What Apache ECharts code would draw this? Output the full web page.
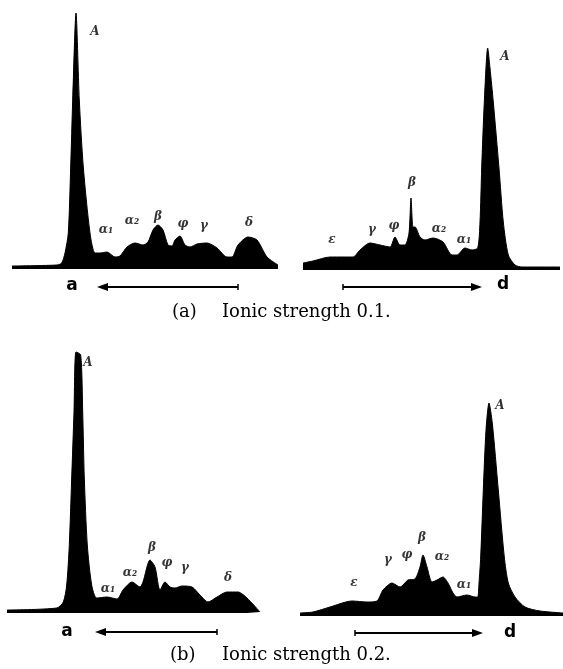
<!DOCTYPE html>
<html>
<head>
<meta charset="utf-8">
<script src="https://cdn.jsdelivr.net/npm/echarts@6/dist/echarts.min.js"></script>
<style>
  html, body { margin: 0; padding: 0; background: #fff; }
  #chart { width: 563px; height: 669px; }
</style>
</head>
<body>
<div id="chart"></div>
<script>
// densitometer traces, x = distance along strip, y = optical density (arbitrary units)
// (a) ionic strength 0.1, acid side
const a1X = [0, 45, 49.7, 53, 56.3, 58.7, 60.7, 64, 67.3, 71.3, 78, 83, 88, 95, 103, 108, 115, 123, 131, 136, 141, 146, 151, 156, 160, 163, 168, 173, 178, 185, 195, 205, 215, 220, 226, 236, 245, 255, 266]
const a1Y = [3, 4, 6, 16, 36, 102, 169, 256, 169, 102, 36, 16, 16, 17, 12, 13, 22, 26, 24, 27, 39, 44, 39, 24, 23, 29, 33, 24, 22, 25, 26, 21, 12, 12, 24, 32, 29, 12, 4]
// (a) ionic strength 0.1, alkaline side
const d1X = [0, 10, 27, 40, 50, 57, 67, 77, 87, 92, 97, 102, 106, 108, 110, 112, 117, 122, 130, 140, 149, 154, 162, 169, 174.7, 177, 178.7, 181.3, 184.7, 187, 190.3, 196, 200.3, 205.3, 212, 219, 257]
const d1Y = [7, 9, 13, 13, 13, 20, 27, 25, 23, 33, 25, 25, 37, 72, 43, 43, 33, 30, 32, 28, 15, 15, 22, 20, 22, 48, 102, 168, 222, 202, 168, 102, 48, 15, 5, 3, 3]
// (b) ionic strength 0.2, acid side
const a2X = [0, 49.7, 56.3, 59.7, 62.3, 64.7, 67, 69, 73.7, 75.7, 77.3, 80.3, 84.7, 89.7, 100, 110, 116, 125, 133, 136, 143, 148, 153, 158, 163, 168, 175, 185, 193, 201, 210, 220, 231, 240, 253]
const a2Y = [3, 5, 11, 28, 68, 135, 201, 261, 258, 201, 135, 68, 28, 15, 16, 14, 23, 31, 26, 31, 53, 46, 23, 31, 26, 25, 27, 26, 18, 11, 16, 21, 21, 15, 1]
// (b) ionic strength 0.2, alkaline side
const d2X = [0, 13, 30, 52, 67, 77, 83, 92, 100, 108, 115, 120, 123, 127, 132, 137, 143, 148, 153, 157, 167, 175, 177.7, 179, 180.7, 183.3, 186, 189, 192.3, 198.3, 204.3, 208.3, 215, 225, 240, 263]
const d2Y = [3, 4, 9, 15, 14, 15, 26, 33, 29, 36, 37, 49, 61, 49, 34, 36, 39, 33, 23, 19, 21, 19, 19, 33, 59, 126, 186, 213, 193, 126, 59, 33, 19, 9, 5, 3]

// peak names and where they are written
const a1Labels = [['A', 83, 237], ['α₁', 94, 39], ['α₂', 120, 48], ['β', 146, 52], ['φ', 171, 45], ['γ', 192, 43], ['δ', 237, 46]]
const d1Labels = [['A', 202, 213], ['β', 109, 87], ['ε', 29, 30], ['γ', 69, 40], ['φ', 91, 44], ['α₂', 136, 41], ['α₁', 161, 30]]
const a2Labels = [['A', 81, 250], ['α₁', 101, 24], ['α₂', 123, 40], ['β', 145, 65], ['φ', 160, 50], ['γ', 178, 45], ['δ', 221, 35]]
const d2Labels = [['A', 200, 210], ['β', 122, 78], ['ε', 54, 33], ['γ', 88, 56], ['φ', 107, 61], ['α₂', 142, 59], ['α₁', 164, 31]]

const captions = ['(a)', 'Ionic strength 0.1.', '(b)', 'Ionic strength 0.2.']

const grids = [
  { left: 12, top: 9, width: 266, height: 260 },
  { left: 303, top: 10, width: 258, height: 260 },
  { left: 7, top: 353, width: 253, height: 260 },
  { left: 300, top: 356, width: 263, height: 260 }
]
const traces = [[a1X, a1Y], [d1X, d1Y], [a2X, a2Y], [d2X, d2Y]]
const labels = [a1Labels, d1Labels, a2Labels, d2Labels]

let series = []
traces.forEach((t, i) => {
  series.push({
    type: 'line',
    xAxisIndex: i,
    yAxisIndex: i,
    data: t[0].map((x, k) => [x, t[1][k]]),
    smooth: 0.25,
    symbol: 'none',
    clip: false,
    lineStyle: { color: '#000', width: 1 },
    areaStyle: { color: '#000', opacity: 1 },
    silent: true
  })
  series.push({
    type: 'scatter',
    xAxisIndex: i,
    yAxisIndex: i,
    symbolSize: 0,
    silent: true,
    data: labels[i].map(l => ({ name: l[0], value: [l[1], l[2]] })),
    label: {
      show: true,
      position: 'inside',
      formatter: '{b}',
      color: '#000',
      fontFamily: 'DejaVu Serif',
      fontStyle: 'italic',
      fontWeight: 'bold',
      fontSize: 12
    }
  })
})

// arrow helper: head at hx, tick at tx
function arrow (hx, tx, y) {
  let dir = tx > hx ? 1 : -1
  return [
    { type: 'line', shape: { x1: hx + dir * 6, y1: y, x2: tx, y2: y }, style: { stroke: '#000', lineWidth: 2 } },
    { type: 'polygon', shape: { points: [[hx, y], [hx + dir * 11, y - 4], [hx + dir * 11, y + 4]] }, style: { fill: '#000' } },
    { type: 'line', shape: { x1: tx, y1: y - 3, x2: tx, y2: y + 3 }, style: { stroke: '#000', lineWidth: 1.5 } }
  ]
}
function letter (s, x, y) {
  return { type: 'text', x: x, y: y, style: { text: s, font: 'bold 17px "DejaVu Sans"', fill: '#000', align: 'center', verticalAlign: 'middle' } }
}
function caption (s, x, y) {
  return { type: 'text', x: x, y: y, style: { text: s, font: '18px "DejaVu Serif"', fill: '#000', align: 'left', verticalAlign: 'middle' } }
}

let graphic = [].concat(
  arrow(97, 238, 287), arrow(482, 343, 287),
  arrow(95, 217, 632), arrow(483, 355, 633),
  [
    letter('a', 72, 286), letter('d', 503, 285),
    letter('a', 67, 632), letter('d', 510, 633),
    caption(captions[0], 172, 312), caption(captions[1], 222, 312),
    caption(captions[2], 170, 655), caption(captions[3], 222, 655)
  ]
)

let option = {
  backgroundColor: '#fff',
  animation: false,
  grid: grids,
  xAxis: grids.map((g, i) => ({ type: 'value', gridIndex: i, min: 0, max: g.width, show: false })),
  yAxis: grids.map((g, i) => ({ type: 'value', gridIndex: i, min: 0, max: 260, show: false })),
  series: series,
  graphic: graphic
}

let chart = echarts.init(document.getElementById('chart'))
chart.setOption(option)
</script>
</body>
</html>
